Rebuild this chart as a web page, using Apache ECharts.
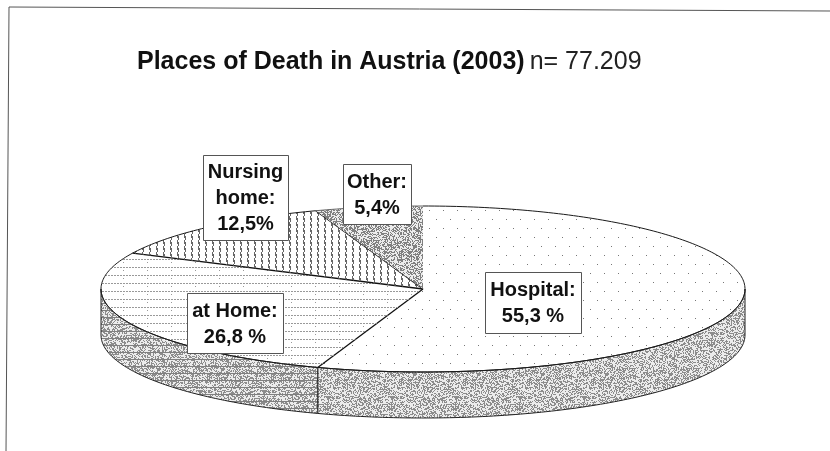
<!DOCTYPE html>
<html>
<head>
<meta charset="utf-8">
<title>Places of Death in Austria (2003)</title>
<style>
  html, body { margin: 0; padding: 0; background: #fff; }
  #chart { width: 830px; height: 451px; }
</style>
<script src="https://cdn.jsdelivr.net/npm/echarts@6/dist/echarts.min.js"></script>
</head>
<body>
<div id="chart"></div>
<script>
// clockwise from 12 o'clock
const places = ['Hospital:', 'at Home:', 'Nursing\nhome:', 'Other:'];
const shares = [55.3, 26.8, 12.5, 5.4];
const shareLabels = ['55,3 %', '26,8 %', '12,5%', '5,4%'];

// ellipse of the tilted pie
const cx = 423, cy = 289, rx = 322, ry = 83, depth = 46;
// label boxes: x, y, w, h
const boxes = [
  [485, 272, 96, 61],
  [187, 293, 96, 60],
  [203, 155, 85, 85],
  [343, 164, 68, 60]
];

function tile(w, h, draw) {
  let c = document.createElement('canvas');
  c.width = w;
  c.height = h;
  draw(c.getContext('2d'), w, h);
  return {image: c, repeat: 'repeat'};
}

// fixed grain, so every run is the same
function grain(x, y) {
  let s = Math.sin(x * 12.9898 + y * 78.233) * 43758.5453;
  return s - Math.floor(s);
}

function stipple(ctx, w, h, dark, color) {
  ctx.fillStyle = '#ececec';
  ctx.fillRect(0, 0, w, h);
  ctx.fillStyle = color;
  for (let y = 0; y < h; y++) {
    for (let x = 0; x < w; x++) {
      if (grain(x, y) < dark) ctx.fillRect(x, y, 1, 1);
    }
  }
}

const topFills = [
  // sparse dots
  tile(14, 18, (ctx) => {
    ctx.fillStyle = '#777';
    ctx.fillRect(2, 3, 1, 1);
    ctx.fillRect(9, 12, 1, 1);
  }),
  // broken horizontal lines
  tile(24, 8, (ctx) => {
    ctx.fillStyle = '#999';
    for (let x = 0; x < 24; x += 3) ctx.fillRect(x, 3, 2, 1);
    ctx.fillRect(3, 6, 1, 1);
  }),
  // vertical hatch
  tile(7, 6, (ctx) => {
    ctx.fillStyle = '#666';
    ctx.fillRect(2, 0, 1, 4);
    ctx.fillRect(3, 2, 1, 4);
  }),
  tile(64, 64, (ctx, w, h) => stipple(ctx, w, h, 0.5, '#808080'))
];

const wallFills = [
  tile(64, 64, (ctx, w, h) => stipple(ctx, w, h, 0.45, '#8c8c8c')),
  tile(64, 63, (ctx, w, h) => {
    stipple(ctx, w, h, 0.45, '#8c8c8c');
    ctx.fillStyle = '#808080';
    for (let y = 2; y < h; y += 7) ctx.fillRect(0, y, w, 1);
  })
];

function rimPoint(deg, dy) {
  let a = deg * Math.PI / 180;
  return [cx + rx * Math.sin(a), cy - ry * Math.cos(a) + dy];
}

function arc(from, to, dy) {
  let pts = [];
  let n = Math.max(2, Math.ceil(Math.abs(to - from)));
  for (let i = 0; i <= n; i++) {
    pts.push(rimPoint(from + (to - from) * i / n, dy));
  }
  return pts;
}

let running = 0;
const sliceData = shares.map((v) => {
  let row = [v, running];
  running += v;
  return row;
});
const total = running;

function renderSlice(params, api) {
  let i = params.dataIndex;
  let from = api.value(1) / total * 360;
  let to = (api.value(1) + api.value(0)) / total * 360;
  let children = [];
  // only the front half of the rim shows a wall
  let wFrom = Math.max(from, 90), wTo = Math.min(to, 270);
  if (wTo > wFrom) {
    children.push({
      type: 'polygon',
      shape: {points: arc(wFrom, wTo, 0).concat(arc(wTo, wFrom, depth))},
      style: {fill: wallFills[i], stroke: '#222', lineWidth: 1}
    });
  }
  children.push({
    type: 'polygon',
    shape: {points: [[cx, cy]].concat(arc(from, to, 0))},
    style: {fill: topFills[i]}
  });
  children.push({
    type: 'polyline',
    shape: {points: arc(from, to, 0)},
    style: {fill: null, stroke: i === 3 ? '#666' : '#1a1a1a', lineWidth: 1}
  });
  // dividing line on the clockwise side, the Other/Hospital edge stays unlined
  if (i < shares.length - 1) {
    children.push({
      type: 'line',
      shape: {x1: cx, y1: cy, x2: rimPoint(to, 0)[0], y2: rimPoint(to, 0)[1]},
      style: {stroke: '#111', lineWidth: 1.3}
    });
  }
  return {type: 'group', children: children};
}

function renderLabel(params, api) {
  let i = params.dataIndex;
  let b = boxes[i];
  return {
    type: 'group',
    children: [{
      type: 'rect',
      shape: {x: b[0] + 0.5, y: b[1] + 0.5, width: b[2], height: b[3]},
      style: {fill: '#fff', stroke: '#555', lineWidth: 1}
    }, {
      type: 'text',
      style: {
        x: b[0] + b[2] / 2,
        y: b[1] + b[3] / 2 + 1,
        text: places[i] + '\n' + shareLabels[i],
        align: 'center',
        verticalAlign: 'middle',
        fill: '#111',
        font: 'bold 20px "Liberation Sans"',
        lineHeight: 26
      }
    }]
  };
}

const chart = echarts.init(document.getElementById('chart'));
chart.setOption({
  animation: false,
  backgroundColor: '#fff',
  title: {
    left: 132,
    top: 45,
    text: '{b|Places of Death in Austria (2003)} {n|n= 77.209}',
    textStyle: {
      rich: {
        b: {fontFamily: 'Liberation Sans', fontWeight: 'bold', fontSize: 25, color: '#111'},
        n: {fontFamily: 'Liberation Sans', fontWeight: 'normal', fontSize: 25, color: '#222'}
      }
    }
  },
  graphic: [
    // scanned frame, only top and left survive and they run a bit skewed
    {type: 'line', shape: {x1: 9, y1: 7, x2: 830, y2: 11}, style: {stroke: '#555', lineWidth: 1}},
    {type: 'line', shape: {x1: 9, y1: 7, x2: 6, y2: 451}, style: {stroke: '#555', lineWidth: 1}}
  ],
  series: [
    {
      type: 'custom',
      coordinateSystem: 'none',
      silent: true,
      data: sliceData,
      renderItem: renderSlice,
      z: 2
    },
    {
      type: 'custom',
      coordinateSystem: 'none',
      silent: true,
      data: shares,
      renderItem: renderLabel,
      z: 3
    }
  ]
});
</script>
</body>
</html>
